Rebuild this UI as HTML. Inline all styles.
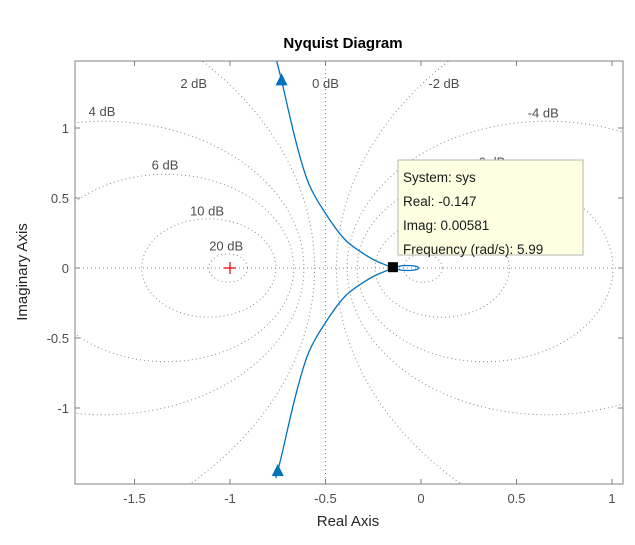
<!DOCTYPE html>
<html><head><meta charset="utf-8"><style>
body{margin:0;background:#fff;}
svg{display:block;font-family:"Liberation Sans",sans-serif;}
</style></head><body>
<svg id="chart" width="635" height="545" viewBox="0 0 635 545">
<rect x="0" y="0" width="635" height="545" fill="#fff"/>
<defs><clipPath id="clip"><rect x="75" y="61" width="548" height="423"/></clipPath></defs>
<rect x="75" y="61" width="548" height="423" fill="#fff"/>
<g id="grid" clip-path="url(#clip)"></g>
<g id="curve" clip-path="url(#clip)"></g>
<g id="axes"></g>
<text x="343" y="48" text-anchor="middle" font-size="15" font-weight="bold" fill="#000">Nyquist Diagram</text>
<text x="348" y="526" text-anchor="middle" font-size="15" fill="#262626">Real Axis</text>
<text transform="translate(27,272) rotate(-90)" text-anchor="middle" font-size="15" fill="#262626">Imaginary Axis</text>
</svg>
<script>
const dbLevels=[-20,-10,-6,-4,-2,0,2,4,6,10,20];
const dbLabels=["2 dB","0 dB","-2 dB","4 dB","-4 dB","6 dB","-6 dB","10 dB","20 dB"];
const dbLabelRe=[-1.19,-0.5,0.12,-1.67,0.64,-1.34,0.36,-1.12,-1.02];
const dbLabelIm=[1.32,1.32,1.32,1.12,1.11,0.74,0.76,0.41,0.16];
const xTicks=[-1.5,-1,-0.5,0,0.5,1];
const xTickLabels=["-1.5","-1","-0.5","0","0.5","1"];
const yTicks=[-1,-0.5,0,0.5,1];
const yTickLabels=["-1","-0.5","0","0.5","1"];
const curveRe=[-0.76,-0.73,-0.657,-0.59,-0.5,-0.396,-0.275,-0.2,-0.147,-0.1,-0.05,-0.02,-0.012];
const curveIm=[1.5,1.34,0.914,0.61,0.39,0.2,0.08,0.03,0.006,0.016,0.017,0.01,0];
const tipRe=-0.147, tipIm=0.00581, tipFreq=5.99;
const NS="http://www.w3.org/2000/svg";
const X0=75,X1=623,Y0=61,Y1=484;
const xs=v=>421+v*191;
const ys=v=>268-v*140;
function mk(t,a,p){const e=document.createElementNS(NS,t);for(const k in a)e.setAttribute(k,a[k]);p.appendChild(e);return e;}
const grid=document.getElementById('grid');
let hl=mk('line',{x1:X0,x2:X1,y1:ys(0),y2:ys(0),stroke:'#888','stroke-width':1,'stroke-dasharray':'1 3'},grid);


dbLevels.forEach(db=>{
  let el;
  if(db===0){
    el=mk('line',{x1:xs(-0.5),x2:xs(-0.5),y1:Y0,y2:Y1,stroke:'#888','stroke-width':1,'stroke-dasharray':'1 3'},grid);
  } else {
    const M=Math.pow(10,db/20);
    const c=M*M/(1-M*M), r=Math.abs(M/(1-M*M));
    el=mk('ellipse',{cx:xs(c),cy:ys(0),rx:r*191,ry:r*140,fill:'none',stroke:'#888','stroke-width':1,'stroke-dasharray':'1 3'},grid);
  }
  
  
});
dbLabels.forEach((s,i)=>{
  const t=mk('text',{x:xs(dbLabelRe[i]),y:ys(dbLabelIm[i])+5,'text-anchor':'middle','font-size':13,fill:'#4d4d4d'},grid);
  t.textContent=s;
  
  
});
const cg=document.getElementById('curve');
function pathFrom(pts){
  let d='M'+pts[0][0]+' '+pts[0][1];
  for(let i=0;i<pts.length-1;i++){
    const p0=pts[Math.max(0,i-1)],p1=pts[i],p2=pts[i+1],p3=pts[Math.min(pts.length-1,i+2)];
    const c1=[p1[0]+(p2[0]-p0[0])/6,p1[1]+(p2[1]-p0[1])/6];
    const c2=[p2[0]-(p3[0]-p1[0])/6,p2[1]-(p3[1]-p1[1])/6];
    d+=' C'+c1[0]+' '+c1[1]+' '+c2[0]+' '+c2[1]+' '+p2[0]+' '+p2[1];
  }
  return d;
}
const up=curveRe.map((r,i)=>[xs(r),ys(curveIm[i])]);
const lo=curveRe.map((r,i)=>[xs(r),ys(-curveIm[i])]);
const pu=mk('path',{d:pathFrom(up),fill:'none',stroke:'#0072BD','stroke-width':1.3},cg);


const pl=mk('path',{d:pathFrom(lo),fill:'none',stroke:'#0072BD','stroke-width':1.3},cg);


[[curveRe[1],curveIm[1]],[curveRe[0]+0.01,-1.45]].forEach((p,i)=>{
  const x=xs(p[0]),y=ys(p[1]);
  const a=mk('polygon',{points:(x-6)+','+(y+5)+' '+(x+6)+','+(y+5)+' '+x+','+(y-7),fill:'#0072BD'},cg);
  
  
});
const cp=mk('path',{d:`M${xs(-1)-6} ${ys(0)}h12M${xs(-1)} ${ys(0)-6}v12`,stroke:'#e00',"stroke-width":1.2},cg);


const ax=document.getElementById('axes');
const box=mk('rect',{x:X0,y:Y0,width:X1-X0,height:Y1-Y0,fill:'none',stroke:'#808080','stroke-width':1},ax);


xTicks.forEach((v,i)=>{
  const x=xs(v);
  mk('line',{x1:x,x2:x,y1:Y1,y2:Y1-5,stroke:'#808080'},ax);
  mk('line',{x1:x,x2:x,y1:Y0,y2:Y0+5,stroke:'#808080'},ax);
  const t=mk('text',{x:x,y:503,'text-anchor':'middle','font-size':13,fill:'#4d4d4d'},ax);
  t.textContent=xTickLabels[i];
  
  
});
yTicks.forEach((v,i)=>{
  const y=ys(v);
  mk('line',{x1:X0,x2:X0+5,y1:y,y2:y,stroke:'#808080'},ax);
  mk('line',{x1:X1,x2:X1-5,y1:y,y2:y,stroke:'#808080'},ax);
  const t=mk('text',{x:X0-6,y:y+5,'text-anchor':'end','font-size':13,fill:'#4d4d4d'},ax);
  t.textContent=yTickLabels[i];
  
  
});
const mx=xs(tipRe),my=ys(tipIm);
const mkr=mk('rect',{x:mx-5,y:my-5,width:10,height:10,fill:'#000'},ax);


const tb=mk('rect',{x:398,y:160,width:185,height:95,fill:'#ffffe1',stroke:'#b4b4b4','stroke-width':1},ax);


const lines=["System: sys","Real: "+tipRe,"Imag: "+tipIm,"Frequency (rad/s): "+tipFreq];
lines.forEach((s,i)=>{
  const t=mk('text',{x:403,y:182+i*24,'font-size':13.5,fill:'#1a1a1a'},ax);
  t.textContent=s;
  
  
});
</script>
</body></html>
